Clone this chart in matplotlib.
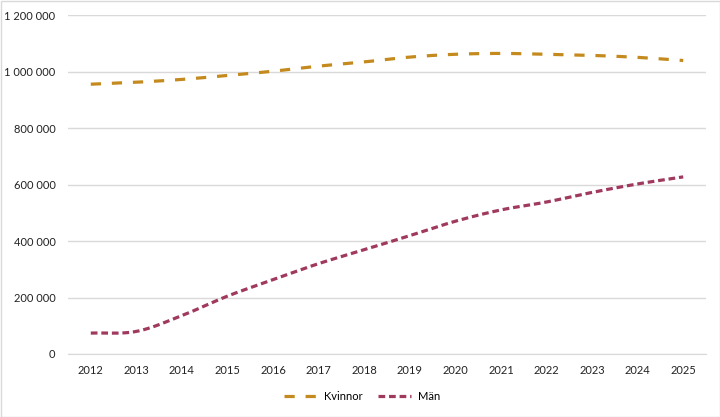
import numpy as np
import matplotlib
matplotlib.use("Agg")
import matplotlib.pyplot as plt
from matplotlib.patches import Rectangle

plt.rcParams['font.family'] = ['Lato', 'DejaVu Sans']

years = [2012, 2013, 2014, 2015, 2016, 2017, 2018, 2019, 2020, 2021, 2022, 2023, 2024, 2025]
kvinnor = [955000, 962000, 972000, 986000, 1001000, 1019000, 1034000, 1051000, 1061000,
           1064000, 1061000, 1057000, 1050000, 1039000]
man = [74000, 80000, 136000, 205000, 263000, 320000, 369000, 419000, 470000,
       510000, 538000, 572000, 602000, 627000]
yticks = [0, 200000, 400000, 600000, 800000, 1000000, 1200000]


def smooth(x, y, n=20):
    # catmull-rom style curve through the points (like excel "smoothed line")
    x = np.asarray(x, float)
    y = np.asarray(y, float)
    px = np.concatenate(([2 * x[0] - x[1]], x, [2 * x[-1] - x[-2]]))
    py = np.concatenate(([2 * y[0] - y[1]], y, [2 * y[-1] - y[-2]]))
    xs, ys = [], []
    t = np.linspace(0, 1, n, endpoint=False)
    for i in range(1, len(px) - 2):
        for p, out in ((px, xs), (py, ys)):
            p0, p1, p2, p3 = p[i - 1], p[i], p[i + 1], p[i + 2]
            out.extend(0.5 * ((2 * p1) + (-p0 + p2) * t + (2 * p0 - 5 * p1 + 4 * p2 - p3) * t ** 2
                              + (-p0 + 3 * p1 - 3 * p2 + p3) * t ** 3))
    xs.append(x[-1])
    ys.append(y[-1])
    return np.array(xs), np.array(ys)


fig = plt.figure(figsize=(7.2, 4.17), dpi=100)
ax = fig.add_axes([68 / 720, 1 - 354 / 417, 638 / 720, 339 / 417])

idx = np.arange(len(years))
kx, ky = smooth(idx, kvinnor)
mx, my = smooth(idx, man)
ax.plot(kx, ky, color='#C48A1E', lw=2.3, linestyle=(0, (3.2, 3.4)), label='Kvinnor')
ax.plot(mx, my, color='#A0395E', lw=2.3, linestyle=(0, (2.1, 1.2)), label='Män')

ax.set_xlim(-0.5, len(years) - 0.5)
ax.set_ylim(0, 1200000)
ax.set_xticks(idx)
ax.set_xticklabels([str(y) for y in years])
ax.set_yticks(yticks)
ax.set_yticklabels([f"{v:,}".replace(",", " ") for v in yticks])
ax.tick_params(length=0, labelsize=8, colors='#222222', pad=8)
ax.tick_params(axis='y', pad=9)
ax.grid(axis='y', color='#D9D9D9', lw=1)
ax.set_axisbelow(True)
for s in ['top', 'right', 'left']:
    ax.spines[s].set_visible(False)
ax.spines['bottom'].set_color('#D9D9D9')

ax.legend(loc='center', bbox_to_anchor=(0.461, -0.124), ncol=2, frameon=False,
          fontsize=8, handlelength=3.0, handletextpad=0.6, columnspacing=1.4)

fig.patches.append(Rectangle((0.5 / 720, 0.5 / 417), 719 / 720, 416 / 417, transform=fig.transFigure,
                             fill=False, edgecolor='#D9D9D9', lw=1))

fig.savefig('out.png', dpi=100)
